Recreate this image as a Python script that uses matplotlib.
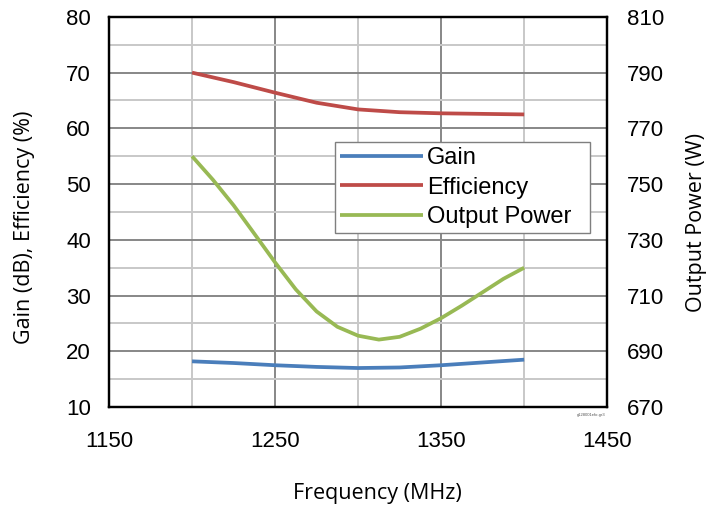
import matplotlib
matplotlib.use("Agg")
from matplotlib import pyplot as plt
from matplotlib.ticker import MultipleLocator
from matplotlib.legend_handler import HandlerLine2D

# 数据
freq = [1200, 1225, 1250, 1275, 1300, 1325, 1350, 1375, 1400]
gain = [18.2, 17.9, 17.5, 17.2, 17.0, 17.1, 17.5, 18.0, 18.5]
efficiency = [70.0, 68.3, 66.4, 64.6, 63.4, 62.9, 62.7, 62.6, 62.5]
freq_p = [1200, 1212.5, 1225, 1237.5, 1250, 1262.5, 1275, 1287.5, 1300,
          1312.5, 1325, 1337.5, 1350, 1362.5, 1375, 1387.5, 1400]
power = [760, 751.6, 742.4, 732.2, 721.9, 712.2, 704.3, 698.8, 695.6,
         694.2, 695.2, 698.1, 701.9, 706.4, 711.2, 716.0, 720]

c_gain = '#4A7EBB'
c_eff = '#BE4B48'
c_pow = '#98B954'


# 图例里的线左边空一点
class ShortLine(HandlerLine2D):
    def create_artists(self, legend, orig_handle, xdescent, ydescent, width, height, fontsize, trans):
        arts = super().create_artists(legend, orig_handle, xdescent, ydescent, width, height, fontsize, trans)
        for a in arts:
            x = a.get_xdata()
            if len(x) == 2:
                a.set_xdata([x[0] + 0.24 * (x[1] - x[0]), x[1]])
        return arts


plt.rcParams['font.family'] = ['Liberation Sans', 'DejaVu Sans']

fig = plt.figure(figsize=(7.22, 5.12), dpi=100)
ax = fig.add_axes([0.151, 0.205, 0.690, 0.762])
ax2 = ax.twinx()

ax.set_xlim(1150, 1450)
ax.set_ylim(10, 80)
ax2.set_ylim(670, 810)
ax.set_xticks([1150, 1250, 1350, 1450])
ax.xaxis.set_minor_locator(MultipleLocator(50))
ax.yaxis.set_major_locator(MultipleLocator(10))
ax.yaxis.set_minor_locator(MultipleLocator(5))
ax2.set_yticks(list(range(670, 811, 20)))

# 网格
ax.grid(which='major', color='#878787', linewidth=1.4)
ax.grid(which='minor', color='#c8c8c8', linewidth=1.4)
ax.set_axisbelow(True)

lw = 2.7
l1, = ax.plot(freq, gain, color=c_gain, linewidth=lw, solid_capstyle='butt',
              solid_joinstyle='round', label='Gain')
l2, = ax.plot(freq, efficiency, color=c_eff, linewidth=lw, solid_capstyle='butt',
              solid_joinstyle='round', label='Efficiency')
l3, = ax2.plot(freq_p, power, color=c_pow, linewidth=lw, solid_capstyle='butt',
               solid_joinstyle='round', label='Output Power  ')

for a in (ax, ax2):
    for s in a.spines.values():
        s.set_linewidth(1.6)
        s.set_color('black')
    a.tick_params(which='both', length=0, labelsize=16)
ax.tick_params(axis='x', pad=17)
ax.tick_params(axis='y', pad=13)
ax2.tick_params(axis='y', pad=14)

lab_font = ['Open Sans', 'DejaVu Sans']
ax.set_xlabel('Frequency (MHz)', fontsize=15.5, family=lab_font)
ax.set_ylabel('Gain (dB), Efficiency (%)', fontsize=15.5, family=lab_font)
ax2.set_ylabel('Output Power (W)', fontsize=15.5, family=lab_font)
ax.xaxis.set_label_coords(0.539, -0.195)
ax.yaxis.set_label_coords(-0.149, 0.46)
ax2.yaxis.set_label_coords(1.159, 0.474)

leg = ax2.legend(handles=[l1, l2, l3], loc='upper left', bbox_to_anchor=(0.454, 0.679),
                 handler_map={matplotlib.lines.Line2D: ShortLine()},
                 fontsize=17, handlelength=3.5, handletextpad=0.2, borderpad=0.2,
                 labelspacing=0.33, fancybox=False, framealpha=1, borderaxespad=0)
leg.get_frame().set_edgecolor('#7f7f7f')
leg.get_frame().set_linewidth(1.0)

fig.text(0.838, 0.193, 'g128001efo-gr3', fontsize=3, color='#555555', ha='right', va='top')

plt.savefig('out.png', dpi=100)
